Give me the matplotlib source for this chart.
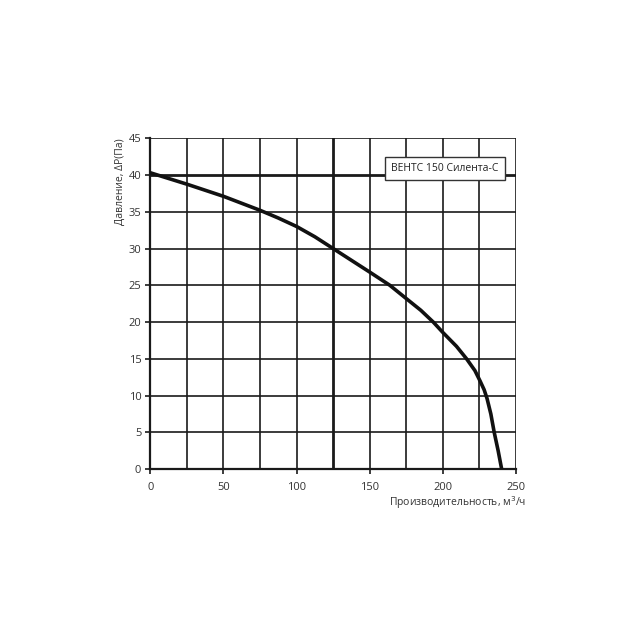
import numpy as np
import matplotlib.pyplot as plt

plt.rcParams['font.family'] = ['Open Sans', 'DejaVu Sans']

# curve
flow = [0, 25, 50, 75, 87.5, 100, 112.5, 125, 137.5, 150, 163.8, 175, 185, 193.5,
        200, 209.4, 216.3, 222, 225.5, 228.3, 230.3, 232.9, 235.2, 237.9, 240.3]
pressure = [40.3, 38.75, 37.1, 35.2, 34.15, 33.0, 31.6, 30.0, 28.4, 26.8, 25.0, 23.2, 21.6, 20.0,
            18.6, 16.7, 15.0, 13.4, 12.0, 10.8, 9.6, 7.5, 5.0, 2.5, 0]

x_ticks = [0, 50, 100, 150, 200, 250]
y_ticks = [0, 5, 10, 15, 20, 25, 30, 35, 40, 45]

fig = plt.figure(figsize=(6.4, 6.4), dpi=100)
ax = fig.add_axes([0.235, 0.267, 0.571, 0.517])

# grid
for gx in np.arange(25, 251, 25):
    lw = 2.0 if gx == 125 else 1.2
    ax.axvline(gx, color='#1a1a1a', lw=lw, zorder=1)
for gy in np.arange(5, 46, 5):
    lw = 2.0 if gy == 40 else 1.2
    ax.axhline(gy, color='#1a1a1a', lw=lw, zorder=1)

ax.plot(flow, pressure, color='#111111', lw=2.6, zorder=3, solid_joinstyle='round')

ax.set_xlim(0, 250)
ax.set_ylim(0, 45)
ax.set_xticks(x_ticks)
ax.set_yticks(y_ticks)
for s in ['top', 'right']:
    ax.spines[s].set_visible(False)
for s in ['left', 'bottom']:
    ax.spines[s].set_linewidth(1.6)
    ax.spines[s].set_color('#1a1a1a')
ax.tick_params(direction='out', length=3.5, width=1.2, color='#1a1a1a',
               labelsize=8, labelcolor='#333333', pad=3)
ax.tick_params(axis='x', pad=6)

ax.set_ylabel('Давление, ΔP(Па)', fontsize=7.5, color='#333333', labelpad=2, loc='top')
fig.text(0.822, 0.214, 'Производительность, м$^3$/ч', fontsize=7.5, color='#333333',
         ha='right', va='center')

ax.text(0.952, 0.909, 'ВЕНТС 150 Силента-С', transform=ax.transAxes, fontsize=7.5,
        color='#222222', ha='right', va='center', zorder=5,
        bbox=dict(boxstyle='square,pad=0.6', fc='white', ec='#333333', lw=1.0))

fig.savefig('out.png', dpi=100)
